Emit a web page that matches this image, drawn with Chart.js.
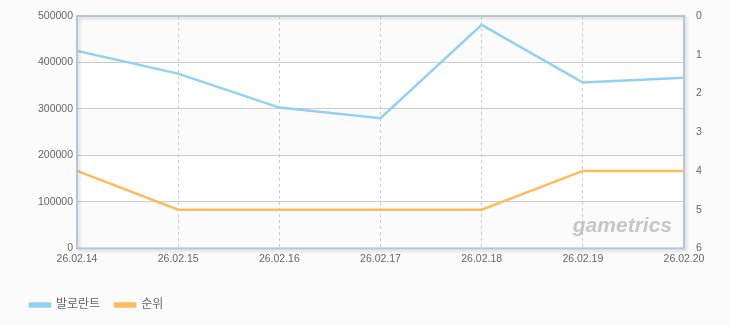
<!DOCTYPE html>
<html>
<head>
<meta charset="utf-8">
<script src="https://cdn.jsdelivr.net/npm/chart.js@4"></script>
<style>
  html, body { margin: 0; padding: 0; background: #fbfbfb; }
  #wrap { width: 730px; height: 325px; }
</style>
</head>
<body>
<div id="wrap"><canvas id="myChart" width="730" height="325"></canvas></div>
<script>
const dates = ["26.02.14", "26.02.15", "26.02.16", "26.02.17", "26.02.18", "26.02.19", "26.02.20"];
const valorant = [425000, 376000, 303000, 280000, 481000, 357000, 367000];
const rank = [4, 5, 5, 5, 5, 4, 4];
const leftTicks = [0, 100000, 200000, 300000, 400000, 500000];
const rightTicks = [0, 1, 2, 3, 4, 5, 6];

const FONT = "'Liberation Sans', 'Noto Sans CJK KR', sans-serif";

// page bg + alternating bands (before grid), frame + watermark after lines
const frame = {
    id: 'frame',
    beforeDraw(chart) {
        const { ctx, chartArea: a, scales } = chart;
        const y = scales.y;
        ctx.save();
        ctx.fillStyle = '#fbfbfb';
        ctx.fillRect(0, 0, chart.width, chart.height);
        for (let i = 0; i < leftTicks.length - 1; i++) {
            const top = y.getPixelForValue(leftTicks[i + 1]);
            const bot = y.getPixelForValue(leftTicks[i]);
            ctx.fillStyle = (i % 2 === 0) ? '#fbfbfb' : '#ffffff';
            ctx.fillRect(a.left, top, a.right - a.left, bot - top);
        }
        ctx.restore();
    },
    afterDatasetsDraw(chart) {
        const { ctx, chartArea: a } = chart;
        ctx.save();
        // watermark
        ctx.font = "italic bold 21px 'Liberation Sans', sans-serif";
        ctx.fillStyle = 'rgba(175,175,175,0.7)';
        ctx.textAlign = 'right';
        ctx.textBaseline = 'alphabetic';
        ctx.fillText('gametrics', a.right - 12, a.bottom - 16);
        // frame with shadow
        ctx.shadowColor = 'rgba(0,0,0,0.15)';
        ctx.shadowOffsetX = 2;
        ctx.shadowOffsetY = 2;
        ctx.shadowBlur = 3;
        ctx.strokeStyle = '#b3c5d9';
        ctx.lineWidth = 2;
        ctx.strokeRect(a.left, a.top, a.right - a.left, a.bottom - a.top);
        ctx.restore();
    }
};

const data = {
    labels: dates,
    datasets: [{
            label: "발로란트",
            data: valorant,
            borderColor: "#92d1f1",
            backgroundColor: "#92d1f1",
            borderWidth: 2.5,
            pointRadius: 0,
            tension: 0,
            yAxisID: 'y'
        },
        {
            label: "순위",
            data: rank,
            borderColor: "#fbbd5c",
            backgroundColor: "#fbbd5c",
            borderWidth: 2.5,
            pointRadius: 0,
            tension: 0,
            yAxisID: 'y1'
        }
    ]
};

const config = {
    type: 'line',
    data: data,
    plugins: [frame],
    options: {
        responsive: false,
        animation: false,
        layout: { padding: { top: 16, left: 15, right: 0, bottom: 4 } },
        plugins: {
            legend: {
                position: 'bottom',
                align: 'start',
                labels: {
                    boxWidth: 20,
                    boxHeight: 3,
                    padding: 15,
                    color: '#666',
                    font: { family: FONT, size: 12 }
                }
            },
            tooltip: { enabled: false }
        },
        scales: {
            x: {
                offset: false,
                afterFit: (s) => { s.height = s.height + 15; },
                grid: { color: '#cccccc', drawTicks: false },
                border: { display: false, dash: [3, 3] },
                ticks: { color: '#666', padding: 4, maxRotation: 0, autoSkip: false,
                    font: { family: FONT, size: 10.5 } }
            },
            y: {
                position: 'left',
                min: 0,
                max: 500000,
                afterFit: (s) => { s.width = 62; },
                afterBuildTicks: (s) => { s.ticks = leftTicks.map(v => ({ value: v })); },
                grid: { color: '#cccccc', drawTicks: false },
                border: { display: false },
                ticks: { color: '#666', padding: 4, font: { family: FONT, size: 10.5 },
                    callback: (v) => String(v) }
            },
            y1: {
                position: 'right',
                reverse: true,
                min: 0,
                max: 6,
                afterFit: (s) => { s.width = 46; },
                afterBuildTicks: (s) => { s.ticks = rightTicks.map(v => ({ value: v })); },
                grid: { display: false },
                border: { display: false },
                ticks: { color: '#666', padding: 4, font: { family: FONT, size: 10.5 },
                    callback: (v) => String(v) }
            }
        }
    }
};

const myChart = new Chart(document.getElementById('myChart'), config);
</script>
</body>
</html>
